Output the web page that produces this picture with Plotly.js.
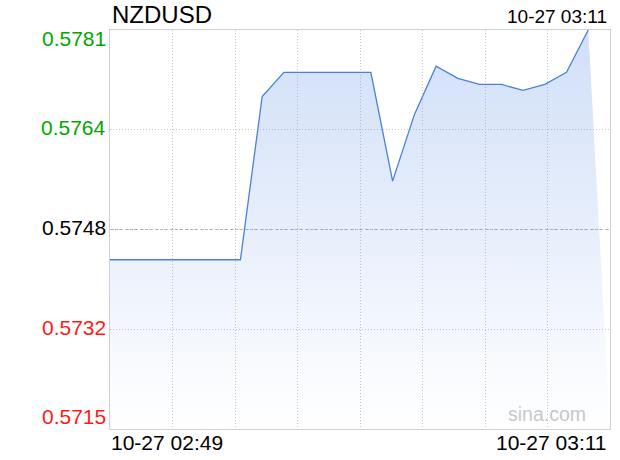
<!DOCTYPE html>
<html>
<head>
<meta charset="utf-8">
<script src="https://cdn.plot.ly/plotly-3.0.1.min.js"></script>
<style>
html,body{margin:0;padding:0;background:#fff;}
#chart{width:620px;height:460px;}
</style>
</head>
<body>
<div id="chart"></div>
<script>
var symbol = "NZDUSD";
var lastTimeLabel = "10-27 03:11";
var times = ["2025-10-27 02:49","2025-10-27 02:50","2025-10-27 02:51","2025-10-27 02:52","2025-10-27 02:53",
  "2025-10-27 02:54","2025-10-27 02:55","2025-10-27 02:56","2025-10-27 02:57","2025-10-27 02:58",
  "2025-10-27 02:59","2025-10-27 03:00","2025-10-27 03:01","2025-10-27 03:02","2025-10-27 03:03",
  "2025-10-27 03:04","2025-10-27 03:05","2025-10-27 03:06","2025-10-27 03:07","2025-10-27 03:08",
  "2025-10-27 03:09","2025-10-27 03:10","2025-10-27 03:11"];
var prices = [0.5743,0.5743,0.5743,0.5743,0.5743,0.5743,0.5743,0.5770,0.5774,0.5774,
  0.5774,0.5774,0.5774,0.5756,0.5767,0.5775,0.5773,0.5772,0.5772,0.5771,
  0.5772,0.5774,0.5781];
var prevClose = 0.5748;
var yTicks = [0.5715,0.57315,0.5748,0.57645,0.5781];
var yTickText = ["0.5715","0.5732","0.5748","0.5764","0.5781"];
var xStart = "2025-10-27 02:49";
var xEnd = "2025-10-27 03:12";
var xLabelLeft = "10-27 02:49";
var xLabelRight = "10-27 03:11";

var yMin = yTicks[0], yMax = yTicks[yTicks.length-1];
var t0 = new Date(xStart.replace(" ","T")).getTime();
var t1 = new Date(xEnd.replace(" ","T")).getTime();
function fmt(ms){
  var d = new Date(ms);
  function p(n){return (n<10?"0":"")+n;}
  return d.getFullYear()+"-"+p(d.getMonth()+1)+"-"+p(d.getDate())+" "+p(d.getHours())+":"+p(d.getMinutes())+":"+p(d.getSeconds());
}
var xGrid = [];
for (var k=0;k<=8;k++){ xGrid.push(fmt(t0 + (t1-t0)*k/8)); }

// fill polygon: line points, then closing to axis end at the bottom, then back to start
var fx = times.concat([xEnd, xStart]);
var fy = prices.concat([yMin, yMin]);

var traces = [
  {x: fx, y: fy, type:'scatter', mode:'none', fill:'toself',
   fillgradient:{type:'vertical', start:yMin, stop:yMax,
     colorscale:[[0,'rgba(60,120,225,0)'],[1,'rgba(60,120,225,0.24)']]},
   hoverinfo:'skip', showlegend:false},
  {x: times, y: prices, type:'scatter', mode:'lines',
   line:{color:'#4a80d8', width:1.3}, showlegend:false}
];

var labelColors = yTicks.map(function(v){
  var r = Math.round(v*10000)/10000;
  if (r > prevClose) return '#00a800';
  if (r < prevClose) return '#ff1a1a';
  return '#000000';
});

var font = "Liberation Sans, Arial, sans-serif";
var annotations = [];
yTicks.forEach(function(v,i){
  var anchor = 'middle', ys = 2;
  if (i === yTicks.length-1) { anchor = 'top'; ys = 5; }
  if (i === 0) { anchor = 'bottom'; ys = -1; }
  annotations.push({xref:'paper', yref:'y', x:0, y:v, xanchor:'right', yanchor:anchor,
    xshift:-2, yshift:ys, showarrow:false, text:yTickText[i],
    font:{family:font, size:21, color:labelColors[i]}});
});
annotations.push({xref:'paper', yref:'paper', x:0, y:1, xanchor:'left', yanchor:'bottom', yshift:0,
  showarrow:false, text:symbol, font:{family:font, size:24, color:'#000'}});
annotations.push({xref:'paper', yref:'paper', x:1, y:1, xanchor:'right', yanchor:'bottom', xshift:-1, yshift:1,
  showarrow:false, text:lastTimeLabel, font:{family:font, size:19, color:'#000'}});
annotations.push({xref:'x', yref:'paper', x:xStart, y:0, xanchor:'left', yanchor:'top', xshift:-1,
  showarrow:false, text:xLabelLeft, font:{family:font, size:21, color:'#000'}});
annotations.push({xref:'paper', yref:'paper', x:1, y:0, xanchor:'right', yanchor:'top', xshift:-1,
  showarrow:false, text:xLabelRight, font:{family:font, size:21, color:'#000'}});
annotations.push({xref:'paper', yref:'paper', x:1, y:0, xanchor:'right', yanchor:'bottom', xshift:-22, yshift:2,
  showarrow:false, text:'sina.com', font:{family:font, size:19.5, color:'#c8c8c8'}});

var layout = {
  width:620, height:460,
  margin:{l:110, r:10, t:30, b:31, pad:0},
  paper_bgcolor:'#fff', plot_bgcolor:'#fff',
  showlegend:false,
  xaxis:{type:'date', range:[xStart, xEnd], tickmode:'array', tickvals:xGrid,
    showticklabels:false, ticks:'', showgrid:true, gridcolor:'#c8c8c8', griddash:'1px,2px', gridwidth:1,
    zeroline:false, showline:true, mirror:true, linecolor:'#d0d0d0', linewidth:1, fixedrange:true},
  yaxis:{range:[yMin, yMax], tickmode:'array', tickvals:yTicks, showticklabels:false, ticks:'',
    showgrid:true, gridcolor:'#c8c8c8', griddash:'1px,2px', gridwidth:1,
    zeroline:false, showline:true, mirror:true, linecolor:'#d0d0d0', linewidth:1, fixedrange:true},
  shapes:[{type:'line', xref:'paper', yref:'y', x0:0, x1:1, y0:prevClose, y1:prevClose,
    line:{color:'#b0b0b0', width:1, dash:'3px,2px'}, layer:'below'}],
  annotations:annotations
};

Plotly.newPlot('chart', traces, layout, {staticPlot:true, displayModeBar:false});
</script>
</body>
</html>
